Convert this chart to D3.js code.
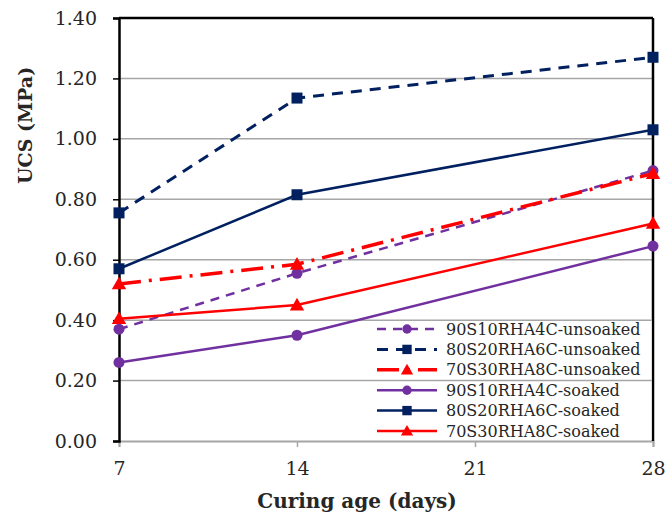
<!DOCTYPE html>
<html><head><meta charset="utf-8">
<script src="https://cdn.jsdelivr.net/npm/d3@7/dist/d3.min.js"></script>
<style>body{margin:0;background:#fff}svg{display:block}</style>
</head><body>
<svg id="c" width="668" height="519"></svg>
<script>
const days = [7, 14, 28];
const xTicks = [7, 14, 21, 28];
const yTicks = [0, 0.2, 0.4, 0.6, 0.8, 1.0, 1.2, 1.4];
const seriesNames = ["90S10RHA4C-unsoaked","80S20RHA6C-unsoaked","70S30RHA8C-unsoaked","90S10RHA4C-soaked","80S20RHA6C-soaked","70S30RHA8C-soaked"];
const s90un = [0.37, 0.555, 0.895];
const s80un = [0.755, 1.135, 1.27];
const s70un = [0.52, 0.585, 0.885];
const s90so = [0.26, 0.35, 0.645];
const s80so = [0.57, 0.815, 1.03];
const s70so = [0.405, 0.45, 0.72];
const xTitle = "Curing age (days)";
const yTitle = "UCS (MPa)";

const styles = [
  {c:"#7030A0", dash:"9,7", w:2.5, m:"circle"},
  {c:"#002060", dash:"11,8", w:3, m:"square"},
  {c:"#FF0000", dash:"22,8,3,8", w:3.5, m:"triangle"},
  {c:"#7030A0", dash:null, w:2.5, m:"circle"},
  {c:"#002060", dash:null, w:2.5, m:"square"},
  {c:"#FF0000", dash:null, w:2.5, m:"triangle"}
];
const allVals = [s90un, s80un, s70un, s90so, s80so, s70so];

const svg = d3.select("#c");
const L=119, R=653, T=18, B=441;
const x = d3.scaleLinear().domain([7,28]).range([L,R]);
const y = d3.scaleLinear().domain([0,1.4]).range([B,T]);
const font = "'DejaVu Serif', serif";
const txtCol = "#262626";

// gridlines
function drawGrid(g){
  g.selectAll("line").data(yTicks.filter(v=>v>0 && v<1.4)).join("line")
    .attr("x1",L).attr("x2",R).attr("y1",d=>y(d)).attr("y2",d=>y(d))
    .attr("stroke","#a6a6a6").attr("stroke-width",1.5);
}
drawGrid(svg.append("g"));

// x axis (gray)
const xa = svg.append("g").attr("transform",`translate(0,${B})`)
  .call(d3.axisBottom(x).tickValues(xTicks).tickSize(6).tickPadding(15).tickFormat(d3.format("d")));
xa.select(".domain").attr("stroke","#a6a6a6").attr("stroke-width",2);
xa.selectAll(".tick line").attr("stroke","#a6a6a6").attr("stroke-width",1.5);
xa.selectAll("text").attr("font-family",font).attr("font-size",19).attr("fill",txtCol);

// y axis
const ya = svg.append("g").attr("transform",`translate(${L},0)`)
  .call(d3.axisLeft(y).tickValues(yTicks).tickSize(6).tickPadding(16).tickFormat(d3.format(".2f")));
ya.select(".domain").attr("stroke","#000").attr("stroke-width",2.5);
ya.selectAll(".tick line").attr("stroke","#000").attr("stroke-width",1.5);
ya.selectAll("text").attr("font-family",font).attr("font-size",19).attr("fill",txtCol);

// top and right border
svg.append("line").attr("x1",L).attr("x2",R).attr("y1",y(1.4)).attr("y2",y(1.4)).attr("stroke","#000").attr("stroke-width",2.5);
svg.append("line").attr("x1",R).attr("x2",R).attr("y1",T).attr("y2",B).attr("stroke","#000").attr("stroke-width",2.5);

function marker(g, type, cx, cy, col, s){
  if(type==="circle") g.append("circle").attr("cx",cx).attr("cy",cy).attr("r",s*0.5).attr("fill",col);
  else if(type==="square") g.append("rect").attr("x",cx-s/2).attr("y",cy-s/2).attr("width",s).attr("height",s).attr("fill",col);
  else g.append("path").attr("d",`M${cx},${cy-s*0.6}L${cx+s*0.6},${cy+s*0.45}L${cx-s*0.6},${cy+s*0.45}Z`).attr("fill",col);
}
const msize = {circle:11, square:11, triangle:12};

const lineGen = d3.line().x((d,i)=>x(days[i])).y(d=>y(d));
allVals.forEach((vals,k)=>{
  const st = styles[k];
  const g = svg.append("g");
  g.append("path").attr("d",lineGen(vals)).attr("fill","none").attr("stroke",st.c)
    .attr("stroke-width",st.w).attr("stroke-dasharray",st.dash);
  vals.forEach((v,i)=>marker(g, st.m, x(days[i]), y(v), st.c, msize[st.m]));
});

// legend
const lgX=372, lgY=319, lgW=R-lgX-1.5, lgH=B-lgY-1;
svg.append("rect").attr("x",lgX).attr("y",lgY).attr("width",lgW).attr("height",lgH).attr("fill","#fff");
svg.append("clipPath").attr("id","lgclip").append("rect").attr("x",lgX).attr("y",lgY).attr("width",lgW).attr("height",lgH);
drawGrid(svg.append("g").attr("clip-path","url(#lgclip)"));
const lg = svg.append("g");
seriesNames.forEach((n,k)=>{
  const st = styles[k];
  const cy = 329 + k*20.4;
  lg.append("line").attr("x1",377).attr("x2",437).attr("y1",cy).attr("y2",cy)
    .attr("stroke",st.c).attr("stroke-width",st.w).attr("stroke-dasharray",st.dash);
  marker(lg, st.m, 407, cy, st.c, msize[st.m]*0.85);
  lg.append("text").attr("x",446).attr("y",cy).attr("dy","0.35em").text(n)
    .attr("font-family",font).attr("font-size",16).attr("fill",txtCol);
});

// titles
svg.append("text").attr("x",357).attr("y",508).attr("text-anchor","middle").text(xTitle)
  .attr("font-family",font).attr("font-size",20).attr("font-weight","bold").attr("fill",txtCol);
svg.append("text").attr("transform",`translate(32,184) rotate(-90)`).attr("text-anchor","start").text(yTitle)
  .attr("font-family",font).attr("font-size",19).attr("font-weight","bold").attr("fill",txtCol);
</script>
</body></html>
